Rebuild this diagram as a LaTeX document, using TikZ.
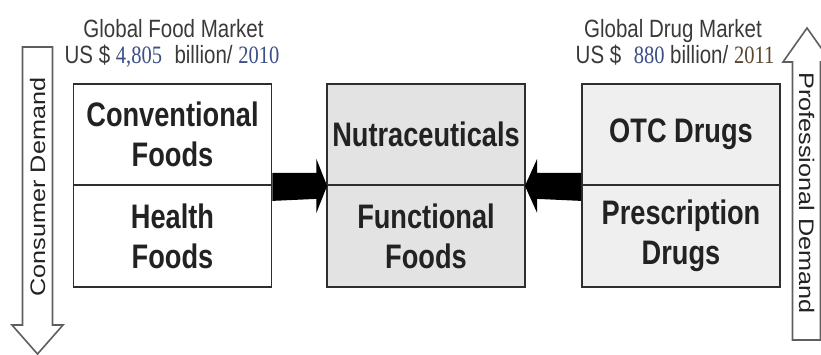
\documentclass[tikz,border=0pt]{standalone}
\usepackage{fontspec}
\setmainfont{Liberation Sans}
\newfontfamily\hdfont[FakeStretch=0.82]{Liberation Sans}
\newfontfamily\hdnum[FakeStretch=0.82]{Liberation Serif}
\newfontfamily\boxfont[FakeStretch=0.8]{Liberation Sans}
\newfontfamily\sidefont[FakeStretch=1.2]{Liberation Sans}
\usetikzlibrary{calc}
\definecolor{ink}{HTML}{222222}
\definecolor{hdink}{HTML}{3A3A3A}
\definecolor{edge}{HTML}{2E2E2E}
\definecolor{midfill}{HTML}{E3E3E3}
\definecolor{rightfill}{HTML}{EFEFEF}
\definecolor{numblue}{HTML}{3C4F86}
\definecolor{numbrown}{HTML}{5A4632}
\definecolor{sidegray}{HTML}{5E5E5E}
\tikzset{
  cell/.style={draw=edge, line width=1.8pt, minimum width=198pt, inner sep=0pt,
    align=center, text=ink, font=\boxfont\bfseries\fontsize{34}{40}\selectfont},
  header/.style={anchor=base, text=hdink, inner sep=0pt,
    font=\hdfont\fontsize{25}{29}\selectfont},
  sidetext/.style={text=ink, inner sep=0pt, font=\sidefont\fontsize{21}{24}\selectfont},
  sidearrow/.style={draw=sidegray, line width=1.6pt, fill=white, line join=miter},
  blockarrow/.style={fill=black},
}
\begin{document}
\begin{tikzpicture}[x=1pt,y=-1pt]
\useasboundingbox (0,0) rectangle (821,355);
\begin{scope}
\clip (0,0) rectangle (821,355);

% consumer demand arrow (pointing down)
\draw[sidearrow] (22.5,47) -- (52.5,47) -- (52.5,325) -- (63,325) -- (37.5,354)
  -- (12,325) -- (22.5,325) -- cycle;
\node[sidetext, rotate=90] (consumer) at (37.5,187) {Consumer Demand};

% professional demand arrow (pointing up)
\draw[sidearrow] (792.5,340) -- (792.5,62) -- (783,62) -- (807,28) -- (831,62)
  -- (820.5,62) -- (820.5,340) -- cycle;
\node[sidetext, rotate=-90] (professional) at (806.5,193) {Professional Demand};
\end{scope}

% food side
\node[cell, minimum height=101pt, fill=white] (conv) at (172.5,134.5) {Conventional\\Foods};
\node[cell, minimum height=102pt, fill=white] (health) at (172.5,236) {Health\\Foods};

% middle column
\node[cell, minimum height=101pt, fill=midfill] (nutra) at (426,134.5) {Nutraceuticals};
\node[cell, minimum height=102pt, fill=midfill] (func) at (426,236) {Functional\\Foods};

% drug side
\node[cell, minimum height=101pt, fill=rightfill] (otc) at (681,134.5) {OTC Drugs};
\node[cell, minimum height=102pt, fill=rightfill] (presc) at (681,236) {Prescription\\Drugs};

% block arrows into the middle column
\fill[blockarrow] ($(conv.south east)+(0,-13)$) -- ++(44,0) -- ++(0,-14) --
  ($(nutra.south west)+(1,0)$) -- ($(conv.south east)+(44,27)$) -- ++(0,-14) --
  ($(conv.south east)+(0,15)$) -- cycle;
\fill[blockarrow] ($(otc.south west)+(0,-13)$) -- ++(-44,0) -- ++(0,-14) --
  ($(nutra.south east)+(-1,0)$) -- ($(otc.south west)+(-44,27)$) -- ++(0,-14) --
  ($(otc.south west)+(0,15)$) -- cycle;

% market figures
\node[header] (foodmkt) at (173.5,38) {Global Food Market};
\node[header] (foodval) at (172,64) {US \$ {\hdnum\color{numblue}4,805}\enspace billion/ {\hdnum\color{numblue}2010}};
\node[header] (drugmkt) at (673,38) {Global Drug Market};
\node[header] (drugval) at (675,64) {US \$\enspace{\hdnum\color{numblue}880} billion/ {\hdnum\color{numbrown}2011}};
\end{tikzpicture}
\end{document}
